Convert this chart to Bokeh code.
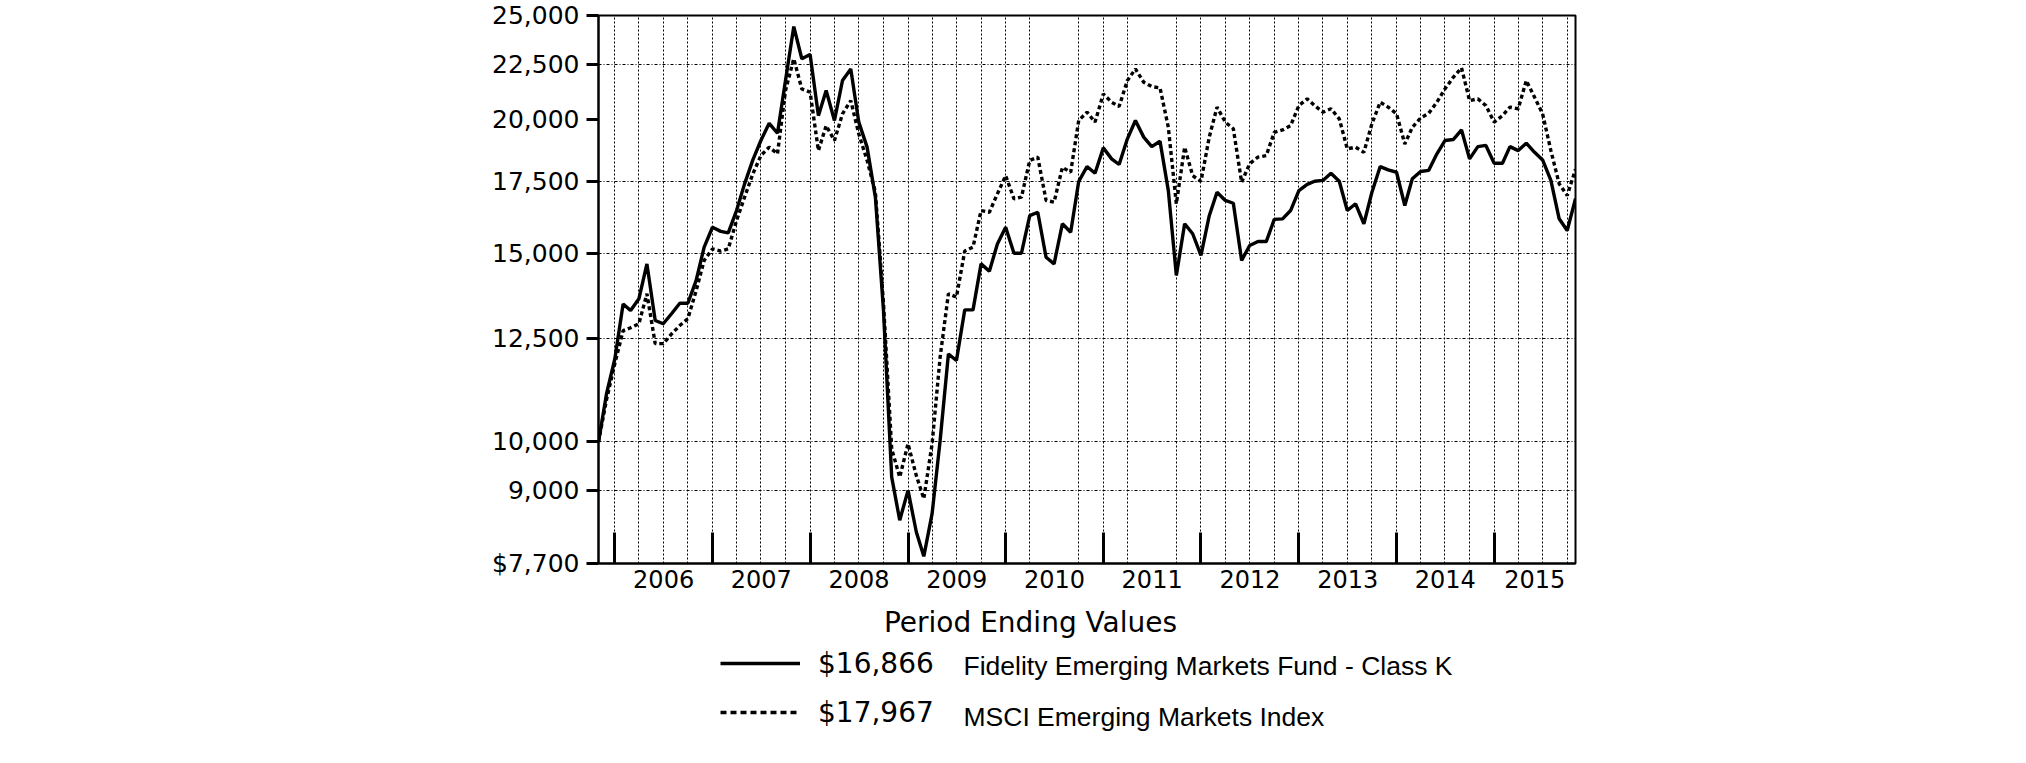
import pandas as pd
from bokeh.plotting import figure
from bokeh.layouts import column
from bokeh.models import (Range1d, FixedTicker, CustomJSTickFormatter, Legend,
                          LegendItem, Label)
from bokeh.embed import file_html
from bokeh.resources import INLINE

# ---------------- data ----------------
start_date = "2005-10-31"
end_date = "2015-10-31"
dates = pd.date_range(start_date, end_date, freq="ME")

fund_values = [
    10000, 11090, 11950, 13450, 13260, 13600, 14660, 12980, 12890, 13170,
    13470, 13470, 14150, 15200, 15860, 15720, 15670, 16440, 17410, 18330,
    19110, 19830, 19410, 21740, 24410, 22780, 22990, 20160, 21280, 19950,
    21740, 22290, 19880, 18840, 16920, 13300, 9270, 8450, 9010, 8240,
    7820, 8570, 10030, 12080, 11910, 13280, 13280, 14660, 14430, 15300,
    15860, 15000, 15000, 16260, 16380, 14870, 14660, 15980, 15690, 17500,
    18070, 17810, 18810, 18370, 18150, 19180, 19950, 19250, 18860, 19080,
    17160, 14300, 15980, 15640, 14930, 16260, 17100, 16800, 16700, 14770,
    15250, 15380, 15380, 16130, 16150, 16440, 17160, 17390, 17510, 17540,
    17810, 17510, 16440, 16680, 15980, 17100, 18070, 17940, 17850, 16620,
    17600, 17880, 17920, 18570, 19110, 19150, 19550, 18370, 18860, 18910,
    18200, 18200, 18860, 18700, 19000, 18630, 18330, 17540, 16150, 15750,
    16866,
]

index_values = [
    10000, 10950, 11830, 12700, 12780, 12890, 13750, 12350, 12350, 12610,
    12840, 13030, 13840, 14770, 15140, 15070, 15140, 16090, 16920, 17790,
    18500, 18840, 18570, 21280, 22780, 21350, 21200, 18700, 19730, 19110,
    20240, 20820, 19380, 18310, 17100, 13500, 9850, 9270, 9960, 9300,
    8850, 9960, 12000, 13750, 13650, 15070, 15200, 16440, 16380, 17040,
    17720, 16860, 16920, 18310, 18440, 16800, 16740, 18040, 17850, 19950,
    20310, 19880, 21120, 20750, 20560, 21740, 22290, 21660, 21460, 21400,
    19660, 16680, 18840, 17720, 17500, 19250, 20530, 19880, 19600, 17470,
    18180, 18440, 18500, 19450, 19550, 19730, 20600, 20900, 20600, 20310,
    20460, 20020, 18770, 18840, 18630, 19810, 20750, 20530, 20240, 18970,
    19660, 20060, 20260, 20750, 21350, 21890, 22340, 20820, 20900, 20600,
    19880, 20160, 20530, 20460, 21740, 20970, 20240, 18700, 17410, 16980,
    17967,
]

fund_name = "Fidelity Emerging Markets Fund - Class K"
index_name = "MSCI Emerging Markets Index"
title_text = "Period Ending Values"

y_ticks = [7700, 9000, 10000, 12500, 15000, 17500, 20000, 22500, 25000]
y_labels = ["$7,700", "9,000", "10,000", "12,500", "15,000", "17,500",
            "20,000", "22,500", "25,000"]
y_grid_values = [9000, 10000, 12500, 15000, 17500, 22500]
years = list(range(2006, 2016))
grid_skip = ["2010-06-30", "2011-06-30"]


def ms(ts):
    return pd.Timestamp(ts).value / 1e6


# year boundaries (end of December) and label positions (middle of each year span)
bounds = [ms(f"{y - 1}-12-31") for y in years] + [ms(end_date)]
label_pos = [(bounds[i] + bounds[i + 1]) / 2 for i in range(len(years))]
skip_ms = {ms(s) for s in grid_skip}
grid_ms = [ms(d) for d in dates if d.month % 3 == 0 and ms(d) not in skip_ms]

# ---------------- main chart ----------------
W = 2010
LEFT, FW, TOP, FH = 598, 977, 15, 548
H1 = 600
LW = 3.4
DASH = "4 3"
p = figure(width=W, height=H1, x_axis_type="datetime", y_axis_type="log",
           x_range=Range1d(ms(start_date), ms(end_date)),
           y_range=Range1d(y_ticks[0], y_ticks[-1]),
           output_backend="svg", toolbar_location=None,
           min_border_left=LEFT, min_border_right=W - LEFT - FW,
           min_border_top=TOP, min_border_bottom=H1 - TOP - FH)

p.background_fill_color = "white"
p.border_fill_color = "white"
p.outline_line_color = "black"
p.outline_line_width = 2

r2 = p.line(dates, index_values, line_color="black", line_width=LW, line_dash=DASH)
r1 = p.line(dates, fund_values, line_color="black", line_width=LW)

# x axis
xa = p.xaxis[0]
xa.ticker = FixedTicker(ticks=label_pos, minor_ticks=bounds[:-1])
xa.formatter = CustomJSTickFormatter(code="return String(new Date(tick).getUTCFullYear())")
xa.major_tick_in = 0
xa.major_tick_out = 0
xa.major_tick_line_color = None
xa.minor_tick_in = 31
xa.minor_tick_out = 0
xa.minor_tick_line_width = 3
xa.minor_tick_line_color = "black"
xa.axis_line_width = 2
xa.axis_line_color = "black"
xa.major_label_text_font = "DejaVu Sans"
xa.major_label_text_font_size = "24px"
xa.major_label_text_color = "black"
xa.major_label_standoff = 6

# y axis
ya = p.yaxis[0]
ya.ticker = FixedTicker(ticks=y_ticks)
ya.major_label_overrides = dict(zip(y_ticks, y_labels))
ya.major_tick_in = 0
ya.major_tick_out = 12
ya.major_tick_line_width = 3
ya.major_tick_line_color = "black"
ya.minor_tick_line_color = None
ya.axis_line_width = 2
ya.axis_line_color = "black"
ya.major_label_text_font = "DejaVu Sans"
ya.major_label_text_font_size = "25px"
ya.major_label_text_color = "black"
ya.major_label_standoff = 7

# grids
p.xgrid.ticker = FixedTicker(ticks=grid_ms)
p.xgrid.grid_line_color = "black"
p.xgrid.grid_line_width = 1
p.xgrid.grid_line_dash = "2 2"
p.ygrid.ticker = FixedTicker(ticks=y_grid_values)
p.ygrid.grid_line_color = "black"
p.ygrid.grid_line_width = 1
p.ygrid.grid_line_dash = "3 2 1 2"

# ---------------- title + legend strip (page-pixel coordinates) ----------------
H2 = 148
p2 = figure(width=W, height=H2,
            x_range=Range1d(LEFT, LEFT + FW), y_range=Range1d(H1 + H2, H1),
            x_axis_type=None, y_axis_type=None, output_backend="svg",
            toolbar_location=None,
            min_border_left=LEFT, min_border_right=W - LEFT - FW,
            min_border_top=0, min_border_bottom=0)
p2.outline_line_color = None
p2.grid.visible = False
p2.background_fill_color = "white"
p2.border_fill_color = "white"

p2.add_layout(Label(x=1030, y=622, text=title_text,
                    text_align="center", text_baseline="middle",
                    text_font="DejaVu Sans", text_font_size="28px", text_color="black"))

# legend keys: renderers that only carry the two line styles (no visible data)
nan = float("nan")
k1 = p2.line(x=[nan, nan], y=[nan, nan], line_color="black", line_width=LW)
k2 = p2.line(x=[nan, nan], y=[nan, nan], line_color="black", line_width=LW, line_dash="6 4")
legend = Legend(items=[LegendItem(label=f"${fund_values[-1]:,}", renderers=[k1]),
                       LegendItem(label=f"${index_values[-1]:,}", renderers=[k2])],
                location=(720 - LEFT, H1 + H2 - 729), orientation="vertical",
                glyph_width=80, glyph_height=34, label_height=34, label_standoff=18,
                spacing=15, padding=0, margin=0, border_line_color=None,
                background_fill_alpha=0, label_text_font="DejaVu Sans",
                label_text_font_size="28px", label_text_color="black")
p2.add_layout(legend)

p2.add_layout(Label(x=963, y=665, text=fund_name,
                    text_align="left", text_baseline="middle",
                    text_font="Liberation Sans", text_font_size="26.5px", text_color="black"))
p2.add_layout(Label(x=963, y=716, text=index_name,
                    text_align="left", text_baseline="middle",
                    text_font="Liberation Sans", text_font_size="26.5px", text_color="black"))

layout = column(p, p2, spacing=0)
open("out.html", "w").write(file_html(layout, INLINE))
